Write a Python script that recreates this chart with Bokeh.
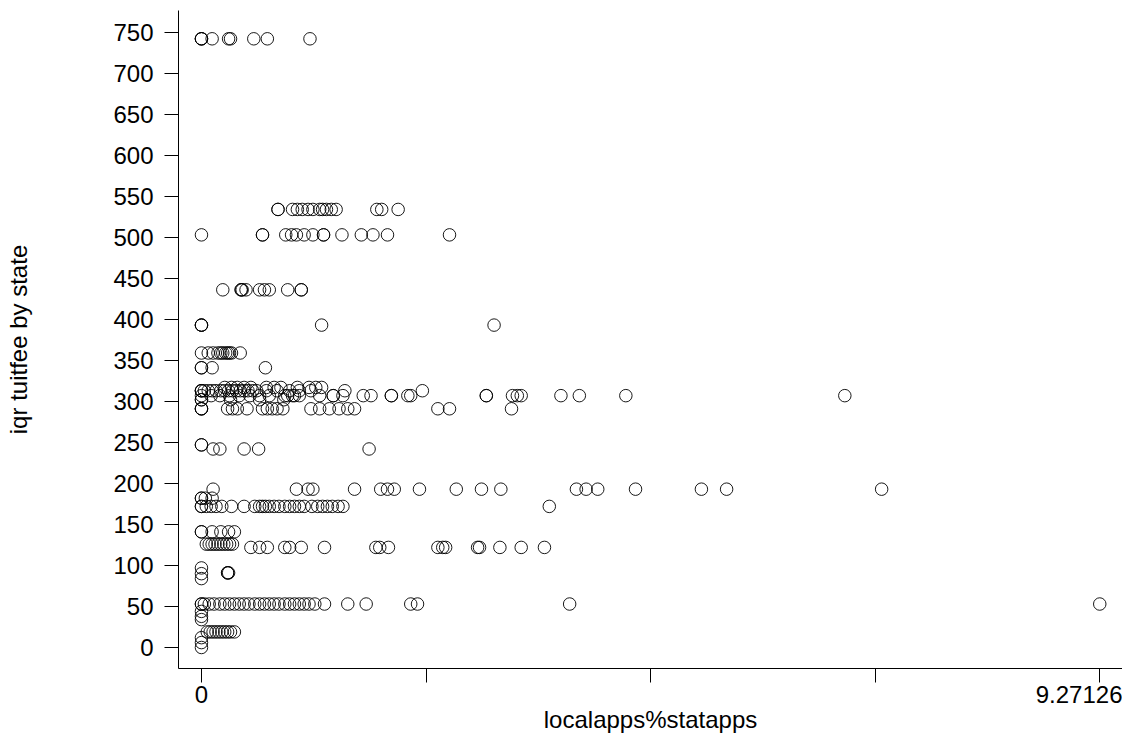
from bokeh.plotting import figure
from bokeh.models import FixedTicker, Range1d, ColumnDataSource
from bokeh.embed import file_html
from bokeh.resources import INLINE

# iqr tuitfee by state levels and the localapps%statapps values observed at each level
y_742 = [0, 0, 0, 0.11, 0.28, 0.30, 0.54, 0.68, 1.12]
y_534 = [0.79, 0.79, 0.94, 0.99, 1.04, 1.10, 1.15, 1.22, 1.25, 1.29, 1.34, 1.39, 1.81, 1.86, 2.03]
y_503 = [0, 0.63, 0.63, 0.87, 0.93, 0.98, 1.06, 1.15, 1.26, 1.26, 1.45, 1.65, 1.77, 1.92, 2.56]
y_436 = [0.22, 0.41, 0.41, 0.42, 0.46, 0.60, 0.65, 0.70, 0.89, 1.03, 1.03]
y_393 = [0, 0, 0, 1.24, 3.02]
y_359 = [0, 0.07, 0.12, 0.17, 0.20, 0.22, 0.25, 0.27, 0.29, 0.31, 0.40]
y_341 = [0, 0, 0.11, 0.66]
y_317 = [0.24, 0.31, 0.37, 0.44, 0.51, 0.67, 0.75, 0.82, 0.99, 1.11, 1.18, 1.24]
y_313 = [0, 0, 0, 0.03, 0.07, 0.11, 0.15, 0.20, 0.24, 0.28, 0.32, 0.36, 0.40, 0.44,
         0.48, 0.53, 0.57, 0.67, 0.78, 0.91, 1.01, 1.13, 1.48, 2.28]
y_307 = [0, 0.10, 0.19, 0.29, 0.39, 0.50, 0.60, 0.70, 0.86, 0.89, 0.94, 0.96, 1.01,
         1.22, 1.36, 1.36, 1.46, 1.67, 1.75, 1.96, 1.96, 2.13, 2.16, 2.94, 2.94,
         3.21, 3.26, 3.30, 3.71, 3.90, 4.38, 6.64]
y_302 = [0, 0, 0.30, 0.60, 0.85]
y_291 = [0, 0, 0, 0.27, 0.32, 0.37, 0.47, 0.63, 0.68, 0.73, 0.78, 0.84, 1.13, 1.22,
         1.32, 1.42, 1.51, 1.58, 2.44, 2.56, 3.20]
y_247 = [0, 0]
y_242 = [0.12, 0.19, 0.44, 0.59, 1.73]
y_193 = [0.12, 0.98, 1.10, 1.15, 1.58, 1.85, 1.92, 1.99, 2.25, 2.63, 2.89, 3.09,
         3.87, 3.97, 4.09, 4.48, 5.16, 5.42, 7.02]
y_182 = [0, 0, 0.04, 0.11]
y_172 = [0, 0, 0.05, 0.10, 0.15, 0.21, 0.31, 0.44, 0.55, 0.60, 0.63, 0.66, 0.70,
         0.75, 0.80, 0.86, 0.91, 0.96, 1.01, 1.06, 1.14, 1.20, 1.25, 1.30, 1.35,
         1.41, 1.46, 3.59]
y_141 = [0, 0, 0.11, 0.20, 0.28, 0.34]
y_126 = [0.05, 0.08, 0.11, 0.14, 0.17, 0.20, 0.23, 0.26, 0.29, 0.32]
y_122 = [0.51, 0.60, 0.68, 0.86, 0.91, 1.03, 1.27, 1.80, 1.84, 1.93, 2.44, 2.49,
         2.52, 2.85, 2.87, 3.08, 3.30, 3.54]
y_97 = [0]
y_91 = [0.27, 0.27, 0.28]
y_90 = [0]
y_84 = [0]
y_53 = [0, 0, 0.03, 0.08, 0.13, 0.19, 0.24, 0.29, 0.34, 0.39, 0.44, 0.49, 0.55,
        0.60, 0.65, 0.70, 0.75, 0.80, 0.86, 0.91, 0.96, 1.01, 1.06, 1.11, 1.17,
        1.27, 1.51, 1.70, 2.16, 2.23, 3.80, 9.27126]
y_44 = [0]
y_38 = [0]
y_34 = [0]
y_19 = [0.06, 0.09, 0.12, 0.15, 0.18, 0.21, 0.24, 0.27, 0.30, 0.34]
y_12 = [0]
y_6 = [0]
y_0 = [0]

levels = {
    742: y_742, 534: y_534, 503: y_503, 436: y_436, 393: y_393, 359: y_359,
    341: y_341, 317: y_317, 313: y_313, 307: y_307, 302: y_302, 291: y_291,
    247: y_247, 242: y_242, 193: y_193, 182: y_182, 172: y_172, 141: y_141,
    126: y_126, 122: y_122, 97: y_97, 91: y_91, 90: y_90, 84: y_84, 53: y_53,
    44: y_44, 38: y_38, 34: y_34, 19: y_19, 12: y_12, 6: y_6, 0: y_0,
}

x_ticks = [0, 2.317815, 4.63563, 6.953445, 9.27126]
x_tick_labels = {0: "0", 2.317815: "", 4.63563: "", 6.953445: "", 9.27126: "9.27126"}
y_ticks = list(range(0, 751, 50))

xs, ys = [], []
for lvl, vals in levels.items():
    for v in vals:
        xs.append(v)
        ys.append(lvl)
src = ColumnDataSource(dict(x=xs, y=ys))

FONT = "Liberation Sans"

p = figure(
    frame_width=944, frame_height=658,
    x_range=Range1d(-0.237, 9.506), y_range=Range1d(-25.6, 776.5),
    output_backend="svg", toolbar_location=None,
    min_border_left=178, min_border_right=0, min_border_top=10, min_border_bottom=52,
)
p.outline_line_color = None
p.background_fill_color = "white"
p.border_fill_color = "white"
p.xgrid.grid_line_color = None
p.ygrid.grid_line_color = None

p.scatter("x", "y", source=src, marker="circle", size=12.5,
          fill_color=None, line_color="black", line_width=0.9)

p.xaxis.ticker = FixedTicker(ticks=x_ticks)
p.xaxis.major_label_overrides = x_tick_labels
p.yaxis.ticker = FixedTicker(ticks=y_ticks)

p.xaxis.axis_label = "localapps%statapps"
p.yaxis.axis_label = "iqr tuitfee by state"

for ax in (p.xaxis[0], p.yaxis[0]):
    ax.axis_line_color = "black"
    ax.axis_line_width = 1
    ax.major_tick_line_color = "black"
    ax.major_tick_in = 0
    ax.major_tick_out = 14
    ax.minor_tick_line_color = None
    ax.major_label_text_font = FONT
    ax.major_label_text_font_size = "24px"
    ax.major_label_text_color = "black"
    ax.axis_label_text_font = FONT
    ax.axis_label_text_font_size = "24px"
    ax.axis_label_text_font_style = "normal"
    ax.axis_label_text_color = "black"

p.xaxis.major_label_standoff = 3
p.yaxis.major_label_standoff = 11
p.xaxis.axis_label_standoff = 0
p.yaxis.axis_label_standoff = 78

open("out.html", "w").write(file_html(p, INLINE))
